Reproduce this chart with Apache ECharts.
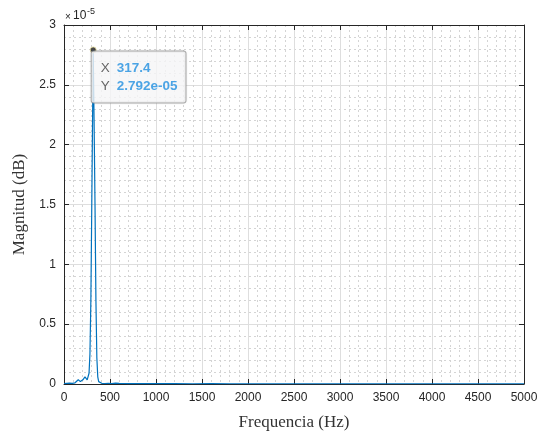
<!DOCTYPE html>
<html>
<head>
<meta charset="utf-8">
<script src="https://cdn.jsdelivr.net/npm/echarts@6/dist/echarts.min.js"></script>
<style>
  html, body { margin: 0; padding: 0; background: #ffffff; }
  #chart { width: 544px; height: 436px; }
</style>
</head>
<body>
<div id="chart"></div>
<script>
// Frequency (Hz)
const freqs = [0, 30, 60, 90, 120, 140, 155, 165, 178, 190, 205, 218, 228, 240, 252, 262, 272, 282, 292, 302, 317.4, 327, 337, 347, 357, 367, 377, 388, 398, 410, 425, 445, 480, 520, 560, 600, 650, 700, 800, 900, 1000, 1200, 1400, 1600, 1800, 2000, 2250, 2500, 2750, 3000, 3250, 3500, 3750, 4000, 4250, 4500, 4750, 5000];
// Magnitude in units of 1e-5
const magnitudes = [0.004, 0.006, 0.008, 0.005, 0.01, 0.015, 0.035, 0.04, 0.02, 0.025, 0.035, 0.04, 0.06, 0.05, 0.035, 0.05, 0.09, 0.25, 0.7, 1.5, 2.792, 2.2, 1.5, 0.7, 0.22, 0.06, 0.02, 0.035, 0.02, 0.006, 0.01, 0.004, 0.006, 0.004, 0.008, 0.006, 0.004, 0.003, 0.004, 0.003, 0.003, 0.003, 0.002, 0.003, 0.002, 0.002, 0.002, 0.002, 0.002, 0.002, 0.002, 0.002, 0.002, 0.002, 0.002, 0.002, 0.002, 0.002];
const xTicks = [0, 500, 1000, 1500, 2000, 2500, 3000, 3500, 4000, 4500, 5000];
const yTicks = [0, 0.5, 1, 1.5, 2, 2.5, 3];
const peakPoint = [317.4, 2.792];
const tipText = ['317.4', '2.792e-05'];

const axisColor = '#262626';
const chart = echarts.init(document.getElementById('chart'));
const lineData = freqs.map((f, i) => [f, magnitudes[i]]);

function baseAxis(pos, labels, ticks) {
  return {
    type: 'value', position: pos, min: ticks[0], max: ticks[ticks.length - 1],
    interval: ticks[1] - ticks[0],
    axisLine: { show: true, onZero: false, lineStyle: { color: axisColor, width: 1 } },
    axisTick: { show: true, inside: true, length: 5, lineStyle: { color: axisColor } },
    axisLabel: { show: labels, color: axisColor, fontFamily: 'Liberation Sans, Arial', fontSize: 12, margin: 8,
                 formatter: v => String(v) },
    minorTick: { show: false, splitNumber: 5 },
    splitLine: { show: labels, lineStyle: { color: '#dedede', width: 1 } },
    minorSplitLine: { show: labels, lineStyle: { color: '#d4d4d4', width: 1, type: [2, 3] } }
  };
}

const xMain = baseAxis('bottom', true, xTicks);
xMain.name = 'Frequencia (Hz)';
xMain.nameLocation = 'middle';
xMain.nameGap = 30;
xMain.nameTextStyle = { fontFamily: 'Liberation Serif, DejaVu Serif, serif', fontSize: 17, color: '#333333' };
const yMain = baseAxis('left', true, yTicks);
yMain.name = 'Magnitud (dB)';
yMain.nameLocation = 'middle';
yMain.nameGap = 33;
yMain.nameTextStyle = { fontFamily: 'Liberation Serif, DejaVu Serif, serif', fontSize: 17, color: '#333333' };

chart.setOption({
  animation: false,
  backgroundColor: '#ffffff',
  grid: { left: 64, right: 20, top: 25, bottom: 49, containLabel: false },
  xAxis: [xMain, baseAxis('top', false, xTicks)],
  yAxis: [yMain, baseAxis('right', false, yTicks)],
  graphic: [
    { type: 'text', left: 65, top: 12, style: { text: '×', fontSize: 10, fill: axisColor, fontFamily: 'Liberation Sans, Arial' } },
    { type: 'text', left: 73, top: 10, style: { text: '10', fontSize: 12, fill: axisColor, fontFamily: 'Liberation Sans, Arial' } },
    { type: 'text', left: 87, top: 7, style: { text: '-5', fontSize: 9, fill: axisColor, fontFamily: 'Liberation Sans, Arial' } }
  ],
  series: [
    {
      type: 'line', data: lineData, xAxisIndex: 0, yAxisIndex: 0,
      showSymbol: false, smooth: false,
      lineStyle: { color: '#0072BD', width: 1.2 }
    },
    {
      type: 'scatter', data: [peakPoint], xAxisIndex: 0, yAxisIndex: 0,
      symbolSize: 6,
      itemStyle: { color: '#1a1a1a', borderColor: '#e8e0a0', borderWidth: 1 },
      z: 10,
      label: {
        show: true,
        position: [2, 5],
        align: 'left',
        verticalAlign: 'top',
        formatter: '{k|X}{s|}{v|' + tipText[0] + '}\n{k|Y}{s|}{v|' + tipText[1] + '}',
        backgroundColor: '#fbfbfd',
        borderColor: '#a0a0a0',
        borderWidth: 1,
        borderRadius: 2,
        padding: [8, 8, 7, 9],
        shadowColor: 'rgba(0,0,0,0.12)',
        shadowBlur: 2,
        rich: {
          k: { color: '#404040', fontSize: 13.5, fontFamily: 'Liberation Sans, Arial', lineHeight: 18 },
          s: { width: 7, lineHeight: 18 },
          v: { color: '#1f8ee0', fontSize: 13.5, fontWeight: 'bold', fontFamily: 'Liberation Sans, Arial', lineHeight: 18 }
        }
      }
    }
  ]
});
</script>
</body>
</html>
